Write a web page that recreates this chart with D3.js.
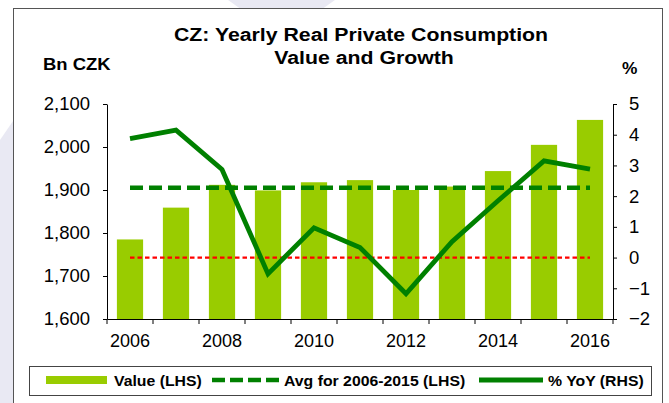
<!DOCTYPE html>
<html>
<head>
<meta charset="utf-8">
<style>
  body { margin: 0; background: #fff; }
  svg { display: block; font-family: "Liberation Sans", Arial, sans-serif; }
</style>
</head>
<body>
<svg width="669" height="403"></svg>
<script src="https://cdn.jsdelivr.net/npm/d3@7"></script>
<script>
// yearly real private consumption, bn CZK, and yoy growth in %
var years = [2006, 2007, 2008, 2009, 2010, 2011, 2012, 2013, 2014, 2015, 2016];
var values = [1785, 1859, 1912, 1899, 1918, 1923, 1900, 1908, 1944, 2005, 2063];
var yoy = [3.87, 4.15, 2.87, -0.53, 0.97, 0.33, -1.18, 0.52, 1.85, 3.15, 2.88];
var avgYears = [2006, 2015];
var leftTicks = [1600, 1700, 1800, 1900, 2000, 2100];
var rightTicks = [-2, -1, 0, 1, 2, 3, 4, 5];
var yearLabels = [2006, 2008, 2010, 2012, 2014, 2016];
var titleLines = ["CZ: Yearly Real Private Consumption", "Value and Growth"];
var legendLabels = ["Value (LHS)", "Avg for 2006-2015 (LHS)", "% YoY (RHS)"];

var barColor = "#99cc00";
var lineColor = "#008000";

var svg = d3.select("svg");

// bold labels in the original are drawn a little wider than the font
function wideText(parent, x, y, size, sx, str, anchor) {
  return parent.append("text")
    .attr("transform", "translate(" + x + "," + y + ") scale(" + sx + ",1)")
    .attr("text-anchor", anchor || "start")
    .attr("font-weight", "bold").attr("font-size", size)
    .attr("fill", "#000")
    .text(str);
}

// faint watermark shapes behind the frame
svg.append("path")
  .attr("d", "M0,403 L0,140 L22,108 L22,403 Z")
  .attr("fill", "#e9e9f3");
svg.append("path")
  .attr("d", "M228,0 L335,0 L318,12 L245,12 Z")
  .attr("fill", "#e9e9f3");

// chart frame
svg.append("rect")
  .attr("x", 13.5).attr("y", 8.5)
  .attr("width", 649).attr("height", 420)
  .attr("fill", "#fff")
  .attr("stroke", "#555").attr("stroke-width", 1);

var x = d3.scaleBand().domain(years).range([107, 613]).padding(0);
var yL = d3.scaleLinear().domain([1600, 2100]).range([319, 104]);
var yR = d3.scaleLinear().domain([-2, 5]).range([319, 104]);
var barW = x.bandwidth() * 0.57;
var cx = function(d) { return x(d) + x.bandwidth() / 2; };

// titles
wideText(svg, 361, 41, 18.5, 1.15, titleLines[0], "middle");
wideText(svg, 364, 64, 18.5, 1.15, titleLines[1], "middle");
wideText(svg, 43, 70, 16.5, 1.12, "Bn CZK");
wideText(svg, 622, 74, 16.5, 1.05, "%");

// bars
svg.append("g").selectAll("rect")
  .data(years)
  .enter().append("rect")
  .attr("x", function(d) { return cx(d) - barW / 2; })
  .attr("width", barW)
  .attr("y", function(d, i) { return yL(values[i]); })
  .attr("height", function(d, i) { return yL(1600) - yL(values[i]); })
  .attr("fill", barColor);

// zero line for growth
svg.append("line")
  .attr("x1", cx(years[0])).attr("x2", cx(years[years.length - 1]))
  .attr("y1", yR(0)).attr("y2", yR(0))
  .attr("stroke", "#ff0000").attr("stroke-width", 2.2)
  .attr("stroke-dasharray", "4.5,3");

// average line
var avg = d3.mean(values.filter(function(v, i) {
  return years[i] >= avgYears[0] && years[i] <= avgYears[1];
}));
svg.append("line")
  .attr("x1", cx(years[0])).attr("x2", cx(years[years.length - 1]))
  .attr("y1", yL(avg)).attr("y2", yL(avg))
  .attr("stroke", lineColor).attr("stroke-width", 4.5)
  .attr("stroke-dasharray", "13,6");

// yoy line
svg.append("path")
  .datum(years)
  .attr("fill", "none")
  .attr("stroke", lineColor).attr("stroke-width", 4.8)
  .attr("stroke-linejoin", "miter")
  .attr("d", d3.line()
    .x(function(d) { return cx(d); })
    .y(function(d, i) { return yR(yoy[i]); }));

// axes
var gL = svg.append("g")
  .attr("transform", "translate(107,0)")
  .call(d3.axisLeft(yL).tickValues(leftTicks).tickFormat(d3.format(","))
    .tickSize(4).tickSizeOuter(0).tickPadding(13));
var gR = svg.append("g")
  .attr("transform", "translate(613,0)")
  .call(d3.axisRight(yR).tickValues(rightTicks).tickFormat(d3.format("d"))
    .tickSize(4).tickSizeOuter(0).tickPadding(12));
var gB = svg.append("g")
  .attr("transform", "translate(0,319)")
  .call(d3.axisBottom(x).tickValues(yearLabels)
    .tickSize(0).tickSizeOuter(0).tickPadding(15));

gB.selectAll(".tick line").remove();
gB.selectAll("line.sep")
  .data(years.map(function(d) { return x(d); }).concat([x.range()[1]]))
  .enter().append("line")
  .attr("class", "sep")
  .attr("x1", function(d) { return d; }).attr("x2", function(d) { return d; })
  .attr("y1", 0).attr("y2", 5)
  .attr("stroke", "#000");

[gL, gR, gB].forEach(function(g) {
  g.selectAll("text").attr("font-size", 18.5).attr("fill", "#000")
    .attr("font-family", "Liberation Sans, Arial, sans-serif");
  g.select(".domain").attr("stroke", "#000");
});
gB.selectAll("text").attr("font-size", 18);

// legend
var lg = svg.append("g");
lg.append("rect")
  .attr("x", 29.5).attr("y", 366.5)
  .attr("width", 622).attr("height", 29)
  .attr("fill", "#fff").attr("stroke", "#444");
lg.append("rect")
  .attr("x", 46).attr("y", 376).attr("width", 61).attr("height", 8)
  .attr("fill", barColor);
lg.append("line")
  .attr("x1", 212).attr("x2", 279).attr("y1", 380).attr("y2", 380)
  .attr("stroke", lineColor).attr("stroke-width", 4.5)
  .attr("stroke-dasharray", "13,5");
lg.append("line")
  .attr("x1", 479).attr("x2", 543).attr("y1", 380).attr("y2", 380)
  .attr("stroke", lineColor).attr("stroke-width", 4.8);
var legX = [114, 284, 548];
legendLabels.forEach(function(d, i) {
  wideText(lg, legX[i], 385.5, 14, 1.13, d);
});
</script>
</body>
</html>
